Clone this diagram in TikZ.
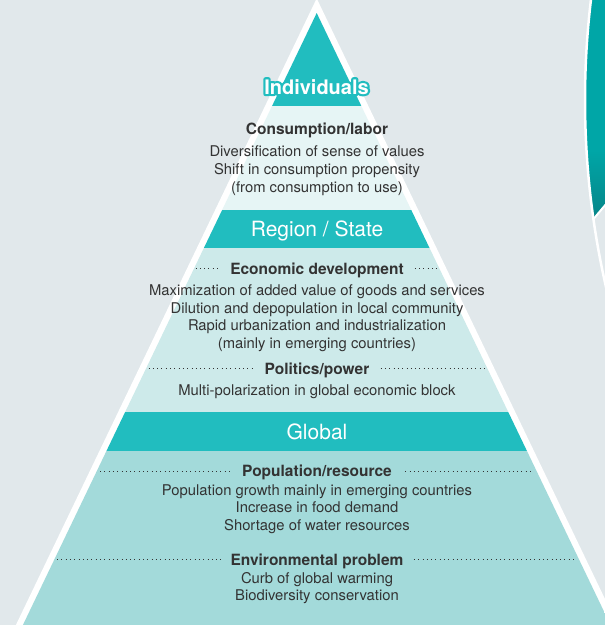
\documentclass[tikz,border=0pt]{standalone}
\usepackage{fontspec}
\setmainfont{TeX Gyre Heros}

\definecolor{bgcol}{HTML}{E1E8EB}
\definecolor{bandteal}{HTML}{21BDBF}
\definecolor{tierone}{HTML}{E6F5F5}
\definecolor{tiertwo}{HTML}{CDEAEA}
\definecolor{tierthree}{HTML}{A3DADA}
\definecolor{inktext}{HTML}{333333}
\definecolor{ringteal}{HTML}{00A6A7}
\definecolor{ringdark}{HTML}{0A7276}

% text drawn with a thick stroke round every glyph
\newcommand\strokedtext[1]{%
  \special{pdf:literal direct 2 Tr 4.4 w 1 j}#1\special{pdf:literal direct 0 Tr 0.4 w 0 j}}

\tikzset{
  bodyline/.style={anchor=base, inner sep=0pt, text=inktext,
    font=\fontsize{14.8}{17.5}\selectfont},
  headline/.style={anchor=base, inner sep=0pt, inner xsep=10pt, text=inktext,
    font=\fontsize{15.5}{18}\selectfont\bfseries},
  bandlabel/.style={anchor=base, inner sep=0pt, text=white,
    font=\fontsize{21}{25}\selectfont},
  indiv/.style={anchor=base, inner sep=0pt,
    font=\fontsize{20}{24}\selectfont\bfseries},
  divider/.style={inktext, line width=0.9pt, dash pattern=on 0.9pt off 3.4pt},
}

\begin{document}
\begin{tikzpicture}[x=1pt, y=-1pt]
\useasboundingbox (0,0) rectangle (605,625);
\begin{scope}
\clip (0,0) rectangle (605,625);
\fill[bgcol] (0,0) rectangle (605,625);

% ring segment at the right edge
\begin{scope}
  \clip (1421,100) circle[radius=836pt];
  \fill[ringteal] (560,-10) -- (620,-10) -- (620,187.6) -- (560,258.7) -- cycle;
  \shade[top color=ringteal, bottom color=ringdark]
    (560,150) -- (620,150) -- (620,187.6) -- (560,258.7) -- cycle;
\end{scope}
\draw[white, line width=2.5pt] (1421,100) circle[radius=836pt];
\draw[white, line width=2pt] (593.5,219) -- (612,197);

% pyramid: white rim, then the tiers
\fill[white] (316.7,-1.6) -- (8.7,640) -- (624.7,640) -- cycle;
\begin{scope}
  \clip (316.7,13) -- (15.7,640) -- (617.7,640) -- cycle;
  \fill[bandteal]  (0,0)   rectangle (640,106);
  \fill[tierone]   (0,106) rectangle (640,210);
  \fill[bandteal]  (0,210) rectangle (640,248);
  \fill[tiertwo]   (0,248) rectangle (640,412);
  \fill[bandteal]  (0,412) rectangle (640,451);
  \fill[tierthree] (0,451) rectangle (640,640);
\end{scope}

% dotted dividers behind the section headings
\coordinate (econL) at (195.5,268.4);  \coordinate (econR) at (438.5,268.4);
\coordinate (politL) at (148.5,368.4); \coordinate (politR) at (485.5,368.4);
\coordinate (popL) at (100,471.1);     \coordinate (popR) at (534,471.1);
\coordinate (envL) at (57,559.4);      \coordinate (envR) at (577,559.4);
\draw[divider] (econL) -- (econR);
\draw[divider] (politL) -- (politR);
\draw[divider] (popL) -- (popR);
\draw[divider] (envL) -- (envR);

% top tier title with a teal outline
\node[indiv, text=bandteal] (indhalo) at (316.5,94) {\strokedtext{Individuals}};
\node[indiv, text=white] (indiv) at (316.5,94) {Individuals};

\node[bandlabel] (region) at (317,236.7) {Region / State};
\node[bandlabel] (global) at (317,439.3) {Global};

% headings
\node[headline]                 (consum) at (317,134.3) {Consumption/labor};
\node[headline, fill=tiertwo]   (econ)   at (317,274)   {Economic development};
\node[headline, fill=tiertwo]   (polit)  at (317,374)   {Politics/power};
\node[headline, fill=tierthree] (popres) at (317,476.7) {Population/resource};
\node[headline, fill=tierthree] (envir)  at (317,565)   {Environmental problem};

% body lines
\node[bodyline] (divers)  at (317,156.5) {Diversification of sense of values};
\node[bodyline] (shift)   at (317,174.5) {Shift in consumption propensity};
\node[bodyline] (fromuse) at (317,192.5) {(from consumption to use)};

\node[bodyline] (maxim)   at (317,295.7) {Maximization of added value of goods and services};
\node[bodyline] (dilut)   at (317,313.3) {Dilution and depopulation in local community};
\node[bodyline] (rapid)   at (317,330.7) {Rapid urbanization and industrialization};
\node[bodyline] (mainly)  at (317,348.3) {(mainly in emerging countries)};
\node[bodyline] (multi)   at (317,395)   {Multi-polarization in global economic block};

\node[bodyline] (popg)    at (317,495)   {Population growth mainly in emerging countries};
\node[bodyline] (food)    at (317,512.5) {Increase in food demand};
\node[bodyline] (water)   at (317,530)   {Shortage of water resources};
\node[bodyline] (curb)    at (317,583.3) {Curb of global warming};
\node[bodyline] (biod)    at (317,600.5) {Biodiversity conservation};
\end{scope}
\end{tikzpicture}
\end{document}
